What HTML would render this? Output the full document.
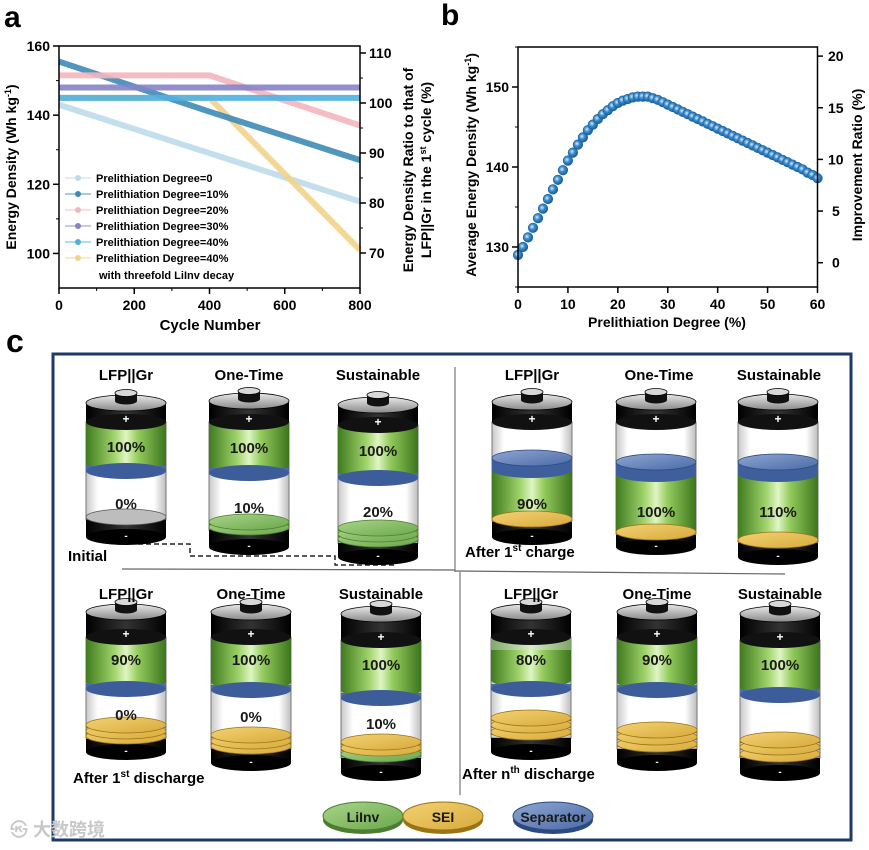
<!DOCTYPE html>
<html><head><meta charset="utf-8">
<style>
body{margin:0;background:#fff;width:869px;height:845px;overflow:hidden;font-family:"Liberation Sans","Noto Sans CJK SC",sans-serif;}
svg text{font-family:"Liberation Sans","Noto Sans CJK SC",sans-serif;font-weight:bold;}
</style></head>
<body>
<svg id="fig" width="869" height="845" viewBox="0 0 869 845" xmlns="http://www.w3.org/2000/svg">
<defs>
<linearGradient id="gGreen" x1="0" x2="1" y1="0" y2="0">
<stop offset="0" stop-color="#3f7a1e"/><stop offset="0.35" stop-color="#9fd36a"/><stop offset="0.5" stop-color="#dff5c4"/><stop offset="0.65" stop-color="#93cb5d"/><stop offset="1" stop-color="#3c751c"/></linearGradient>
<linearGradient id="gPale" x1="0" x2="1"><stop offset="0" stop-color="#7fa868"/><stop offset="0.5" stop-color="#d9ecc9"/><stop offset="1" stop-color="#7ea565"/></linearGradient>
<linearGradient id="gBlack" x1="0" x2="1"><stop offset="0" stop-color="#000"/><stop offset="0.5" stop-color="#333"/><stop offset="1" stop-color="#000"/></linearGradient>
<linearGradient id="gGlass" x1="0" x2="1"><stop offset="0" stop-color="#c8c8c8"/><stop offset="0.15" stop-color="#fff"/><stop offset="0.85" stop-color="#fff"/><stop offset="1" stop-color="#bdbdbd"/></linearGradient>
<linearGradient id="gCap" x1="0" x2="0" y1="0" y2="1"><stop offset="0" stop-color="#e8e8e8"/><stop offset="1" stop-color="#8a8a8a"/></linearGradient>
<linearGradient id="gGold" x1="0" x2="1" y1="0" y2="1"><stop offset="0" stop-color="#f3d272"/><stop offset="1" stop-color="#d7aa3c"/></linearGradient>
<linearGradient id="gBlue" x1="0" x2="1" y1="0" y2="1"><stop offset="0" stop-color="#8ea6d0"/><stop offset="1" stop-color="#4a6aa8"/></linearGradient>
<linearGradient id="gGDisc" x1="0" x2="1" y1="0" y2="1"><stop offset="0" stop-color="#a9d48a"/><stop offset="1" stop-color="#6aa84a"/></linearGradient>
<radialGradient id="gPt" cx="0.4" cy="0.4" r="0.6"><stop offset="0" stop-color="#d8ecff"/><stop offset="0.45" stop-color="#3d8ccc"/><stop offset="1" stop-color="#15609e"/></radialGradient>
</defs>
<g id="panelA"></g>
<g id="panelB"></g>
<g id="panelC"></g>
</svg>
<script>
// ---------- Panel A data ----------
const aCycles = [0, 400, 800];
const aSeriesNames = ["Prelithiation Degree=0","Prelithiation Degree=10%","Prelithiation Degree=20%","Prelithiation Degree=30%","Prelithiation Degree=40%","Prelithiation Degree=40%"];
const aDeg0 = [143, 129, 115];
const aDeg10 = [155.5, 141, 127];
const aDeg20 = [151.5, 151.5, 137];
const aDeg30 = [148, 148, 148];
const aDeg40 = [145, 145, 145];
const aDeg40Decay = [145, 145, 101];
const aLeftTicks = [100, 120, 140, 160];
const aRightTicks = [70, 80, 90, 100, 110];
const aXTicks = [0, 200, 400, 600, 800];
// ---------- Panel B data ----------
const bDegrees = [];
for (let i = 0; i <= 60; i++) bDegrees.push(i);
const bEnergy = [129,130,131.2,132.4,133.6,134.8,136,137.2,138.4,139.6,140.8,141.8,142.8,143.7,144.6,145.3,146,146.6,147.1,147.6,148,148.3,148.5,148.7,148.8,148.8,148.8,148.6,148.4,148.1,147.8,147.5,147.2,146.9,146.6,146.3,146,145.7,145.4,145.1,144.8,144.5,144.2,143.9,143.6,143.3,143,142.7,142.4,142.1,141.8,141.5,141.2,140.9,140.6,140.3,140,139.7,139.3,139,138.6];
const bLeftTicks = [130, 140, 150];
const bRightTicks = [0, 5, 10, 15, 20];
const bXTicks = [0, 10, 20, 30, 40, 50, 60];

const NS = "http://www.w3.org/2000/svg";
function mk(parent, tag, attrs, txt) {
  const e = document.createElementNS(NS, tag);
  for (const k in attrs) e.setAttribute(k, attrs[k]);
  if (txt !== undefined) e.textContent = txt;
  parent.appendChild(e);
  return e;
}

// ===== Panel A =====
const A = document.getElementById('panelA');
const xA = v => 59 + v / 800 * 301;
const yA = v => 46 + (160 - v) / 70 * 242;
const yAR = v => 253 - (v - 70) * 5;
let t = mk(A, 'text', {x: 4, y: 27, 'font-size': 30}, 'a');
 
const aColors = ["#bcdaea", "#3d8bb6", "#f4b6bd", "#8683c6", "#4fb1e2", "#f3d389"];
const aData = [aDeg0, aDeg10, aDeg20, aDeg30, aDeg40, aDeg40Decay];
const aOrder = [0, 5, 1, 2, 4, 3];
aOrder.forEach(i => {
  const pts = aCycles.map((c, j) => xA(c) + ',' + yA(aData[i][j])).join(' ');
  const pl = mk(A, 'polyline', {points: pts, fill: 'none', stroke: aColors[i], 'stroke-width': 6, 'stroke-opacity': 0.9});
  
  
});
// axes frame
const fa = mk(A, 'rect', {x: 59, y: 46, width: 301, height: 242, fill: 'none', stroke: '#000', 'stroke-width': 1.5});
 
aLeftTicks.forEach(v => {
  mk(A, 'line', {x1: 59, x2: 53, y1: yA(v), y2: yA(v), stroke: '#000', 'stroke-width': 1.5});
  const tx = mk(A, 'text', {x: 50, y: yA(v) + 5, 'font-size': 14, 'text-anchor': 'end'}, v);
   
});
[110, 130, 150].forEach(v => mk(A, 'line', {x1: 59, x2: 56, y1: yA(v), y2: yA(v), stroke: '#000'}));
aRightTicks.forEach(v => {
  mk(A, 'line', {x1: 360, x2: 366, y1: yAR(v), y2: yAR(v), stroke: '#000', 'stroke-width': 1.5});
  const tx = mk(A, 'text', {x: 369, y: yAR(v) + 5, 'font-size': 14}, v);
   
});
[75, 85, 95, 105].forEach(v => mk(A, 'line', {x1: 360, x2: 363, y1: yAR(v), y2: yAR(v), stroke: '#000'}));
aXTicks.forEach(v => {
  mk(A, 'line', {x1: xA(v), x2: xA(v), y1: 288, y2: 294, stroke: '#000', 'stroke-width': 1.5});
  const tx = mk(A, 'text', {x: xA(v), y: 310, 'font-size': 14, 'text-anchor': 'middle'}, v);
   
});
[100, 300, 500, 700].forEach(v => mk(A, 'line', {x1: xA(v), x2: xA(v), y1: 288, y2: 291, stroke: '#000'}));
t = mk(A, 'text', {x: 210, y: 330, 'font-size': 15, 'text-anchor': 'middle'}, 'Cycle Number');
 
t = mk(A, 'text', {transform: 'translate(16,167) rotate(-90)', 'font-size': 14, 'text-anchor': 'middle'});
 
t.innerHTML = 'Energy Density (Wh kg<tspan dy="-5" font-size="9">-1</tspan><tspan dy="5">)</tspan>';
t = mk(A, 'text', {transform: 'translate(413,170) rotate(-90)', 'font-size': 14, 'text-anchor': 'middle'}, 'Energy Density Ratio to that of');
 
t = mk(A, 'text', {transform: 'translate(431,170) rotate(-90)', 'font-size': 14, 'text-anchor': 'middle'});
t.innerHTML = 'LFP||Gr in the 1<tspan dy="-5" font-size="9">st</tspan><tspan dy="5"> cycle (%)</tspan>';
 
// legend
aSeriesNames.forEach((n, i) => {
  const y = 178 + i * 16;
  const g = mk(A, 'g', {});
   
  mk(g, 'line', {x1: 65, x2: 91, y1: y, y2: y, stroke: aColors[i], 'stroke-width': 1.5, 'stroke-opacity': 0.6});
  mk(g, 'circle', {cx: 78, cy: y, r: 3, fill: aColors[i]});
  mk(g, 'text', {x: 96, y: y + 4, 'font-size': 11}, n);
});
t = mk(A, 'text', {x: 99, y: 279, 'font-size': 11}, 'with threefold LiInv decay');
 

// ===== Panel B =====
const B = document.getElementById('panelB');
const xB = v => 518 + v / 60 * 299.5;
const yB = v => 47 + (155 - v) / 30 * 240;
const yBR = v => 262.7 - v * 10.33;
t = mk(B, 'text', {x: 441, y: 25, 'font-size': 30}, 'b');
 
bDegrees.forEach((d, i) => {
  const c = mk(B, 'circle', {cx: xB(d), cy: yB(bEnergy[i]), r: 4.8, fill: 'url(#gPt)', stroke: '#1b5f98', 'stroke-width': 0.6});
   
});
const fb = mk(B, 'rect', {x: 518, y: 47, width: 299.5, height: 240, fill: 'none', stroke: '#000', 'stroke-width': 1.5});
 
bLeftTicks.forEach(v => {
  mk(B, 'line', {x1: 518, x2: 512, y1: yB(v), y2: yB(v), stroke: '#000', 'stroke-width': 1.5});
  const tx = mk(B, 'text', {x: 509, y: yB(v) + 5, 'font-size': 14, 'text-anchor': 'end'}, v);
   
});
[125, 135, 145, 155].forEach(v => mk(B, 'line', {x1: 518, x2: 515, y1: yB(v), y2: yB(v), stroke: '#000'}));
bRightTicks.forEach(v => {
  mk(B, 'line', {x1: 817.5, x2: 823, y1: yBR(v), y2: yBR(v), stroke: '#000', 'stroke-width': 1.5});
  const tx = mk(B, 'text', {x: 828 + (v < 10 ? 4 : 0), y: yBR(v) + 5, 'font-size': 14}, v);
   
});
bXTicks.forEach(v => {
  mk(B, 'line', {x1: xB(v), x2: xB(v), y1: 287, y2: 293, stroke: '#000', 'stroke-width': 1.5});
  const tx = mk(B, 'text', {x: xB(v), y: 309, 'font-size': 14, 'text-anchor': 'middle'}, v);
   
});
t = mk(B, 'text', {x: 667, y: 327, 'font-size': 14, 'text-anchor': 'middle'}, 'Prelithiation Degree (%)');
 
t = mk(B, 'text', {transform: 'translate(476,165) rotate(-90)', 'font-size': 14, 'text-anchor': 'middle'});
t.innerHTML = 'Average Energy Density (Wh kg<tspan dy="-5" font-size="9">-1</tspan><tspan dy="5">)</tspan>';
 
t = mk(B, 'text', {transform: 'translate(862,165) rotate(-90)', 'font-size': 14, 'text-anchor': 'middle'}, 'Improvement Ratio (%)');
 

// ===== Panel C =====
const C = document.getElementById('panelC');
t = mk(C, 'text', {x: 6, y: 352, 'font-size': 32}, 'c');
 
const box = mk(C, 'rect', {x: 53, y: 354, width: 798, height: 486, fill: 'none', stroke: '#1f3a6a', 'stroke-width': 3});
 
mk(C, 'line', {x1: 455, x2: 455, y1: 367, y2: 572, stroke: '#777', 'stroke-width': 1.2});
mk(C, 'line', {x1: 460, x2: 460, y1: 572, y2: 795, stroke: '#777', 'stroke-width': 1.2});
mk(C, 'line', {x1: 122, x2: 455, y1: 569, y2: 570, stroke: '#666', 'stroke-width': 1.2});
mk(C, 'line', {x1: 455, x2: 785, y1: 571, y2: 574, stroke: '#666', 'stroke-width': 1.2});
const dash = mk(C, 'polyline', {points: '138,544 190,544 190,556 335,556 335,565 397,565', fill: 'none', stroke: '#222', 'stroke-width': 1.5, 'stroke-dasharray': '5,3'});
 

const W = 40, RY = 8;
function ell(g, cx, cy, fill, stroke, rx) { return mk(g, 'ellipse', {cx: cx, cy: cy, rx: rx || W, ry: RY, fill: fill, stroke: stroke || 'none', 'stroke-width': 0.8}); }
function battery(b) {
  const g = mk(C, 'g', {});
  
  
  const cx = b.cx;
  // glass body
  mk(g, 'rect', {x: cx - W, y: b.band, width: 2 * W, height: b.bot[0] - b.band, fill: 'url(#gGlass)', stroke: '#777', 'stroke-width': 1});
  // green block
  if (b.green) {
    mk(g, 'rect', {x: cx - W, y: b.green[0], width: 2 * W, height: b.green[1] - b.green[0], fill: 'url(#gGreen)'});
    ell(g, cx, b.green[1], 'url(#gGreen)');
    if (b.pale) mk(g, 'rect', {x: cx - W, y: b.green[0], width: 2 * W, height: b.pale, fill: 'url(#gPale)'});
  }
  // separator
  if (b.sepBand) {
    mk(g, 'rect', {x: cx - W, y: b.sep, width: 2 * W, height: 5, fill: '#4a6ba8'});
    ell(g, cx, b.sep + 5, '#3d5d9a');
  }
  if (b.sepDisk) {
    mk(g, 'rect', {x: cx - W, y: b.sep, width: 2 * W, height: 12, fill: '#3f5f9c'});
    ell(g, cx, b.sep + 12, '#3f5f9c');
    ell(g, cx, b.sep, 'url(#gBlue)', '#2c4a80');
  }
  // bottom black
  mk(g, 'rect', {x: cx - W, y: b.bot[0], width: 2 * W, height: b.bot[1] - b.bot[0], fill: 'url(#gBlack)'});
  ell(g, cx, b.bot[1], '#000');
  mk(g, 'text', {x: cx, y: b.bot[1] + 2, 'font-size': 10, fill: '#fff', 'text-anchor': 'middle'}, '-');
  // discs (bottom-most first)
  b.discs.slice().reverse().forEach(d => {
    const fill = d.c === 'gold' ? 'url(#gGold)' : d.c === 'green' ? 'url(#gGDisc)' : '#bdbdbd';
    const st = d.c === 'gold' ? '#9a7414' : d.c === 'green' ? '#4c7d30' : '#555';
    mk(g, 'rect', {x: cx - W, y: d.y, width: 2 * W, height: 3, fill: st});
    ell(g, cx, d.y, fill, st);
  });
  // top cap
  mk(g, 'rect', {x: cx - W, y: b.top, width: 2 * W, height: b.band - b.top, fill: 'url(#gBlack)'});
  ell(g, cx, b.band, '#111');
  ell(g, cx, b.top, 'url(#gCap)', '#000');
  mk(g, 'rect', {x: cx - 11, y: b.top - 10, width: 22, height: 8, fill: '#111'});
  mk(g, 'ellipse', {cx: cx, cy: b.top - 2, rx: 11, ry: 3.5, fill: '#111'});
  mk(g, 'ellipse', {cx: cx, cy: b.top - 10, rx: 11, ry: 3.5, fill: '#d8d8d8', stroke: '#000', 'stroke-width': 0.8});
  mk(g, 'text', {x: cx, y: b.band + 1, 'font-size': 12, fill: '#fff', 'text-anchor': 'middle'}, '+');
  b.labels.forEach(l => {
    const tx = mk(g, 'text', {x: cx, y: l[1] + 6, 'font-size': 15, fill: '#1a1a1a', 'text-anchor': 'middle'}, l[0]);
     
  });
}
const G = (y, c) => ({y: y, c: c});
const batteries = [
  {name:'initial-lfp', cx:126, top:403, band:422, green:[422,465], sep:466, sepBand:1, discs:[G(517,'gray')], bot:[520,537], labels:[['100%',446],['0%',503]]},
  {name:'initial-onetime', cx:249, top:401, band:422, green:[422,467], sep:468, sepBand:1, discs:[G(522,'green'),G(527,'green')], bot:[530,547], labels:[['100%',447],['10%',507]]},
  {name:'initial-sustainable', cx:378, top:405, band:425, green:[425,472], sep:473, sepBand:1, discs:[G(528,'green'),G(534,'green'),G(539,'green')], bot:[543,557], labels:[['100%',450],['20%',511]]},
  {name:'charge-lfp', cx:532, top:402, band:422, green:[468,517], sep:458, sepDisk:1, discs:[G(519,'gold')], bot:[521,537], labels:[['90%',503]]},
  {name:'charge-onetime', cx:656, top:402, band:422, green:[474,530], sep:462, sepDisk:1, discs:[G(532,'gold')], bot:[534,547], labels:[['100%',511]]},
  {name:'charge-sustainable', cx:778, top:402, band:422, green:[474,538], sep:462, sepDisk:1, discs:[G(540,'gold')], bot:[542,557], labels:[['110%',511]]},
  {name:'discharge1-lfp', cx:126, top:612, band:637, green:[637,682], sep:684, sepBand:1, discs:[G(725,'gold'),G(731,'gold'),G(736,'gold')], bot:[738,752], labels:[['90%',659],['0%',714]]},
  {name:'discharge1-onetime', cx:251, top:612, band:637, green:[637,682], sep:685, sepBand:1, discs:[G(735,'gold'),G(741,'gold'),G(746,'gold')], bot:[749,763], labels:[['100%',659],['0%',716]]},
  {name:'discharge1-sustainable', cx:381, top:614, band:640, green:[640,690], sep:693, sepBand:1, discs:[G(742,'gold'),G(748,'gold'),G(754,'green')], bot:[758,773], labels:[['100%',664],['10%',723]]},
  {name:'dischargen-lfp', cx:531, top:612, band:637, green:[637,680], pale:13, sep:684, sepBand:1, discs:[G(718,'gold'),G(725,'gold'),G(732,'gold')], bot:[738,752], labels:[['80%',659]]},
  {name:'dischargen-onetime', cx:657, top:612, band:637, green:[637,682], sep:685, sepBand:1, discs:[G(730,'gold'),G(737,'gold'),G(744,'gold')], bot:[749,763], labels:[['90%',659]]},
  {name:'dischargen-sustainable', cx:780, top:614, band:640, green:[640,688], sep:690, sepBand:1, discs:[G(740,'gold'),G(747,'gold'),G(754,'gold')], bot:[758,773], labels:[['100%',664]]}
];
batteries.forEach(battery);
// titles
const titleRows = [[375, [126,249,378], [532,659,779]], [594, [126,251,381], [531,657,780]]];
const tNames = ['LFP||Gr', 'One-Time', 'Sustainable'];
titleRows.forEach(r => {
  r[1].concat(r[2]).forEach((x, i) => {
    const tx = mk(C, 'text', {x: x, y: r[0] + 5, 'font-size': 15, 'text-anchor': 'middle'}, tNames[i % 3]);
     
  });
});
const stageLabels = [[68, 561, 'Initial', ''], [465, 557, 'After 1', 'st|charge'], [73, 783, 'After 1', 'st|discharge'], [462, 779, 'After n', 'th|discharge']];
stageLabels.forEach(s => {
  const tx = mk(C, 'text', {x: s[0], y: s[1], 'font-size': 15});
   
  if (s[3]) { const p = s[3].split('|'); tx.innerHTML = s[2] + '<tspan dy="-6" font-size="10">' + p[0] + '</tspan><tspan dy="6"> ' + p[1] + '</tspan>'; }
  else tx.textContent = s[2];
});
// legend discs
const cLegend = [[363, 'LiInv', 'url(#gGDisc)', '#4c7d30'], [443, 'SEI', 'url(#gGold)', '#9a7414'], [553, 'Separator', 'url(#gBlue)', '#2c4a80']];
cLegend.forEach(l => {
  const g = mk(C, 'g', {});
  
  
  mk(g, 'ellipse', {cx: l[0], cy: 820, rx: 40, ry: 14, fill: l[3]});
  mk(g, 'ellipse', {cx: l[0], cy: 816, rx: 40, ry: 14, fill: l[2], stroke: l[3]});
  mk(g, 'text', {x: l[0], y: 822, 'font-size': 14, 'text-anchor': 'middle', fill: '#1a1a1a', 'font-weight': 'normal'}, l[1]);
});
t = mk(C, 'text', {x: 10, y: 836, 'font-size': 18, fill: '#c8c8c8', 'font-weight': 'normal'}, '㉿ 大数跨境');
 
</script>
</body></html>
